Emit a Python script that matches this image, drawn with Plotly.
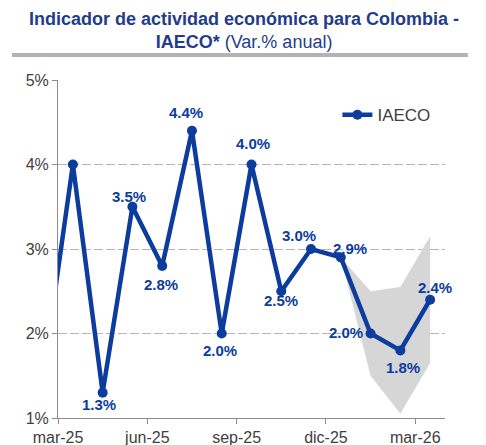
import plotly.graph_objects as go

months = ["feb-25", "mar-25", "abr-25", "may-25", "jun-25", "jul-25", "ago-25",
          "sep-25", "oct-25", "nov-25", "dic-25", "ene-26", "feb-26", "mar-26"]
iaeco = [1.5, 4.0, 1.3, 3.5, 2.8, 4.4, 2.0, 4.0, 2.5, 3.0, 2.9, 2.0, 1.8, 2.4]
show_label = [False, False, True, True, True, True, True, True, True, True, True, True, True, True]

fan_months = ["dic-25", "ene-26", "feb-26", "mar-26"]
fan_upper = [2.9, 2.5, 2.55, 3.15]
fan_lower = [2.9, 1.5, 1.05, 1.65]

tick_labels = ["mar-25", "jun-25", "sep-25", "dic-25", "mar-26"]

# month index, feb-25 = -1
idx = {m: i - 1 for i, m in enumerate(months)}
x_main = [idx[m] for m in months]
x_fan = [idx[m] for m in fan_months]
tickvals = [idx[m] - 0.5 for m in tick_labels]

# label offsets in pixels (dx right, dy up) - styling only
label_dx = [0, 0, -4, -3, -1, -6, -2, 1, 0, -12, 9, -25, 3, 5]
label_dy = [0, 0, -12, 10, -19, 18, -17, 21, -9, 14, 9, 1, -17, 12]

BLUE = "#0b3c9e"
FONT = "Liberation Sans, Arial, sans-serif"

fig = go.Figure()

fig.add_trace(go.Scatter(
    x=x_fan + x_fan[::-1], y=fan_upper + fan_lower[::-1],
    fill="toself", fillcolor="#d6d6d6", mode="none",
    showlegend=False, hoverinfo="skip"))

fig.add_trace(go.Scatter(
    x=x_main, y=iaeco, mode="lines+markers", name="IAECO",
    line=dict(color=BLUE, width=4.5),
    marker=dict(color=BLUE, size=10)))

for x, v, s, dx, dy in zip(x_main, iaeco, show_label, label_dx, label_dy):
    if not s:
        continue
    fig.add_annotation(x=x, y=v, text=f"<b>{v:.1f}%</b>", showarrow=False,
                       xshift=dx, yshift=dy,
                       font=dict(family=FONT, size=15, color=BLUE))

fig.update_layout(
    width=478, height=437,
    margin=dict(l=50, r=41, t=72, b=27),
    paper_bgcolor="white", plot_bgcolor="white",
    font=dict(family=FONT, color="#404040"),
    showlegend=True,
    legend=dict(x=0.722, y=0.896, xanchor="left", yanchor="middle",
                bgcolor="rgba(0,0,0,0)", font=dict(size=17, color="#404040")),
    xaxis=dict(range=[-0.5, 12.5], tickvals=tickvals, ticktext=tick_labels,
               showgrid=False, zeroline=False, showline=True, linecolor="#8c8c8c",
               linewidth=1, ticks="outside", ticklen=5, tickcolor="#8c8c8c",
               tickfont=dict(size=16, color="#404040"), automargin=False),
    yaxis=dict(range=[1, 5], dtick=1, ticksuffix="%", showgrid=True,
               gridcolor="#b5b5b5", griddash="9px,3px", gridwidth=1, zeroline=False,
               showline=True, linecolor="#8c8c8c", linewidth=1,
               ticks="outside", ticklen=5, tickcolor="#8c8c8c",
               tickfont=dict(size=16, color="#404040"), automargin=False),
)

fig.add_annotation(
    xref="paper", yref="paper", x=0.5, y=1.0, xanchor="center", yanchor="bottom",
    xshift=-8, yshift=26, showarrow=False, align="center",
    text="<b>Indicador de actividad económica para Colombia -</b><br>"
         "<b>IAECO*</b> (Var.% anual)",
    font=dict(family=FONT, size=18, color="#1f3d8c"))

fig.add_shape(type="line", xref="paper", yref="paper",
              x0=-0.119, x1=1.059, y0=1.074, y1=1.074,
              line=dict(color="#b3b3b3", width=4))

fig.write_html("out.html")
